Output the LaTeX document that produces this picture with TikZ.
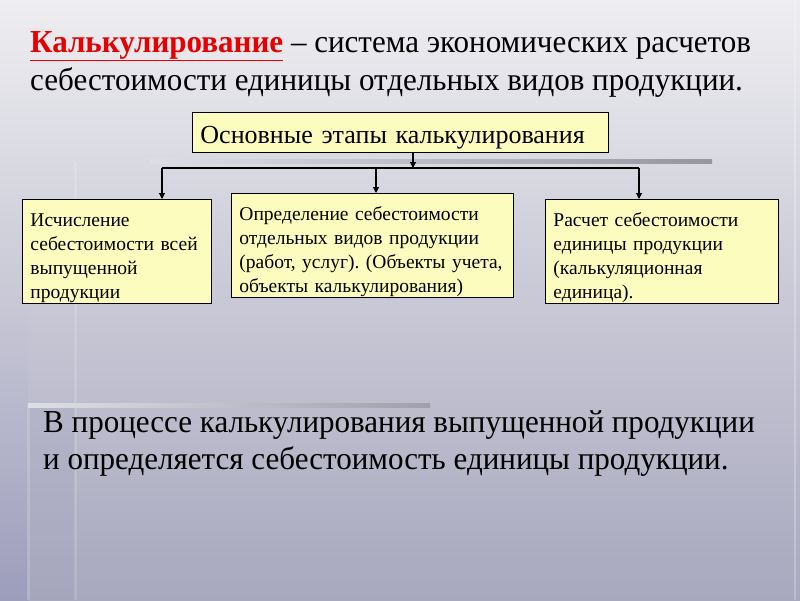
\documentclass[tikz,border=0pt]{standalone}
\usepackage{fontspec}
\setmainfont{Liberation Serif}
\usetikzlibrary{arrows.meta}
\frenchspacing
\definecolor{bgtop}{RGB}{238,238,241}
\definecolor{bgmid}{RGB}{200,200,214}
\definecolor{bgbot}{RGB}{168,168,190}
\definecolor{stripbot}{RGB}{150,150,188}
\definecolor{colbot}{RGB}{160,160,190}
\definecolor{bardark}{RGB}{150,150,162}
\definecolor{bardarkb}{RGB}{160,160,172}
\definecolor{boxfill}{RGB}{252,252,190}
\definecolor{titlered}{RGB}{230,0,0}
\newcommand{\sqz}[1]{\scalebox{0.97}[1]{#1}}
\tikzset{
  stagebox/.style={draw=black, line width=0.9pt, fill=boxfill, anchor=north west,
    align=left, inner xsep=8pt, inner ysep=0pt, font=\fontsize{19.5}{24}\selectfont,
    execute at begin node={\rule{0pt}{26pt}}},
  link/.style={line width=1.1pt, -{Triangle[width=6pt,length=6pt]}},
  plainlink/.style={line width=1.1pt},
  bigtext/.style={anchor=base west, inner sep=0pt, font=\fontsize{32}{38}\selectfont},
}
\begin{document}
\begin{tikzpicture}[x=1pt,y=-1pt]
\useasboundingbox (0,0) rectangle (800,600);
% background
\shade[top color=bgtop, bottom color=bgbot, middle color=bgmid] (0,0) rectangle (800,600);
\shade[top color=bgmid, bottom color=stripbot, opacity=0.6] (0,300) rectangle (28,600);
\fill[colbot, opacity=0.25] (28,405) rectangle (75,600);
\fill[white, opacity=0.18] (27,405) rectangle (30,600);
\fill[white, opacity=0.15] (74,162) rectangle (77,600);
\fill[white, opacity=0.25] (794,0) rectangle (796,600);
\shade[left color=bgmid!60!white, right color=bardark] (150,159) rectangle (712,163);
\shade[left color=bgmid!60!white, right color=bardarkb] (28,403) rectangle (430,407);
% title
\node[bigtext] (t1) at (30,52) {\sqz{\textcolor{titlered}{\textbf{\underline{Калькулирование}}} – система экономических расчетов}};
\node[bigtext] (t2) at (30,90) {\sqz{себестоимости единицы отдельных видов продукции.}};
% boxes
\node[draw=black, line width=0.9pt, fill=boxfill, anchor=north west, minimum width=416pt, minimum height=40pt,
  inner sep=0pt, font=\fontsize{26}{30}\selectfont, text width=400pt, align=left,
  execute at begin node={\rule{0pt}{28pt}}] (top) at (192,112) {Основные этапы калькулирования};
\node[stagebox, text width=173pt, minimum height=104pt] (b1) at (22,199)
  {Исчисление\\себестоимости всей\\выпущенной\\продукции};
\node[stagebox, text width=266pt, minimum height=104pt] (b2) at (231,193)
  {Определение себестоимости\\отдельных видов продукции\\(работ, услуг). (Объекты учета,\\объекты калькулирования)};
\node[stagebox, text width=217pt, minimum height=104pt] (b3) at (545,199)
  {Расчет себестоимости\\единицы продукции\\(калькуляционная\\единица).};
% connectors
\coordinate (j) at (413,168);
\coordinate (jl) at (162,168);
\coordinate (jm) at (376,168);
\coordinate (jr) at (639,168);
\draw[link] (top.south -| j) -- (j);
\draw[plainlink] (jl) -- (jr);
\draw[link] (jl) -- (b1.north -| jl);
\draw[link] (jm) -- (b2.north -| jm);
\draw[link] (jr) -- (b3.north -| jr);
% bottom text
\node[bigtext] (c1) at (43,432) {\sqz{В процессе калькулирования выпущенной продукции}};
\node[bigtext] (c2) at (43,469) {\sqz{и определяется себестоимость единицы продукции.}};
\end{tikzpicture}
\end{document}
